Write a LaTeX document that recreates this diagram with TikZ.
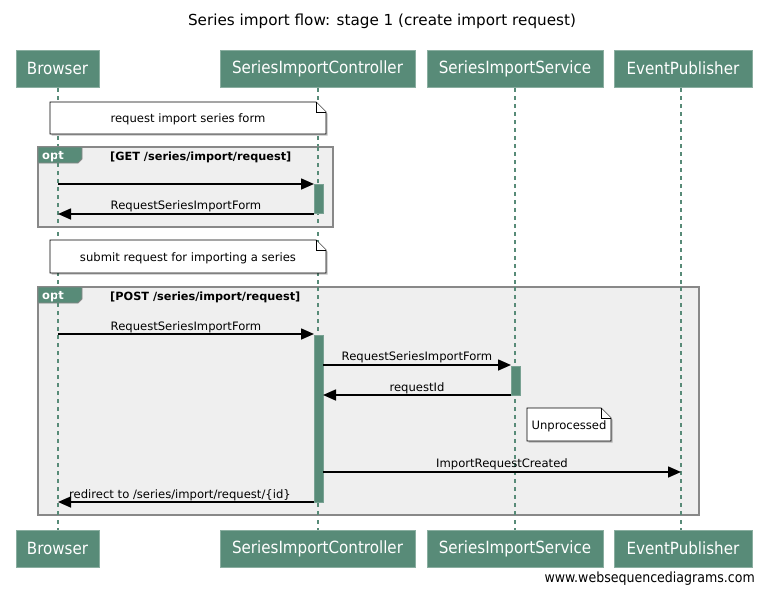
\documentclass[tikz,border=0pt]{standalone}
\usepackage{fontspec}
\setmainfont{DejaVu Sans}
\newfontfamily\condfont{DejaVu Sans Condensed}
\usetikzlibrary{arrows.meta,shadows}
\definecolor{wsdgreen}{RGB}{88,139,120}
\definecolor{framefill}{RGB}{239,239,239}
\definecolor{framedraw}{RGB}{136,136,136}
\tikzset{
  actor/.style={fill=wsdgreen, draw=wsdgreen!70!white, line width=1pt, text=white,
    font=\condfont\fontsize{16.8}{18}\selectfont, minimum height=37pt, inner sep=0pt,
    drop shadow={shadow xshift=1.2pt, shadow yshift=-1.2pt, fill=black, opacity=0.2}},
  life/.style={draw=wsdgreen, line width=2.4pt, dash pattern=on 4pt off 4pt},
  msg/.style={draw=black, line width=1.6pt, -{Triangle[length=13pt,width=11pt]}},
  lbl/.style={font=\fontsize{11.6}{13}\selectfont, inner sep=0pt, anchor=base},
  act/.style={fill=wsdgreen, draw=wsdgreen!80!white, line width=0.8pt},
  notebox/.style={fill=white, draw=black, line width=0.8pt,
    drop shadow={shadow xshift=1.5pt, shadow yshift=-1.5pt, fill=black, opacity=0.25}},
  fold/.style={fill=white, draw=black, line width=0.8pt},
  frame/.style={fill=framefill, draw=framedraw, line width=1.5pt,
    drop shadow={shadow xshift=1pt, shadow yshift=-1pt, fill=black, opacity=0.15}},
  tab/.style={fill=wsdgreen, draw=framedraw, line width=0.8pt},
  tabtxt/.style={text=white, font=\bfseries\fontsize{11.5}{12}\selectfont, inner sep=0pt, anchor=base west},
  guard/.style={font=\bfseries\fontsize{11.3}{12}\selectfont, inner sep=0pt, anchor=base west},
  notetxt/.style={font=\fontsize{11.6}{13}\selectfont, inner sep=0pt, anchor=base},
}
\begin{document}
\begin{tikzpicture}[x=1pt,y=-1pt]
\useasboundingbox (0,0) rectangle (764,592);
% title
\node[font=\fontsize{15.2}{17}\selectfont, anchor=base] (title) at (382,25) {Series import flow: stage 1 (create import request)};
% lifelines
\coordinate (bT) at (58,88);  \coordinate (bB) at (58,530);
\coordinate (cT) at (318,88); \coordinate (cB) at (318,530);
\coordinate (sT) at (515,88); \coordinate (sB) at (515,530);
\coordinate (eT) at (681,88); \coordinate (eB) at (681,530);
\draw[life] (bT) -- (bB);
\draw[life] (cT) -- (cB);
\draw[life] (sT) -- (sB);
\draw[life] (eT) -- (eB);
% frames
\draw[frame] (38,147) rectangle (333,227);
\draw[tab] (38,147) -- (82,147) -- (82,159) -- (78,163) -- (38,163) -- cycle;
\node[tabtxt] (opt1) at (42,159) {opt};
\node[guard] (g1) at (110,160) {[GET /series/import/request]};
\draw[frame] (38,287) rectangle (699,515);
\draw[tab] (38,287) -- (82,287) -- (82,299) -- (78,303) -- (38,303) -- cycle;
\node[tabtxt] (opt2) at (42,299) {opt};
\node[guard] (g2) at (110,300) {[POST /series/import/request]};
% re-draw lifelines over frames
\draw[life] (58,147) -- (58,227);
\draw[life] (318,147) -- (318,227);
\draw[life] (58,287) -- (58,515);
\draw[life] (318,287) -- (318,515);
\draw[life] (515,287) -- (515,515);
\draw[life] (681,287) -- (681,515);
% participants
\node[actor, minimum width=83pt] (browser) at (57.5,68.5) {Browser};
\node[actor, minimum width=195pt] (ctrl) at (317.5,68.5) {SeriesImportController};
\node[actor, minimum width=176pt] (svc) at (515,68.5) {SeriesImportService};
\node[actor, minimum width=138pt] (pub) at (683,68.5) {EventPublisher};
\node[actor, minimum width=83pt] (browser2) at (57.5,548.5) {Browser};
\node[actor, minimum width=195pt] (ctrl2) at (317.5,548.5) {SeriesImportController};
\node[actor, minimum width=176pt] (svc2) at (515,548.5) {SeriesImportService};
\node[actor, minimum width=138pt] (pub2) at (683,548.5) {EventPublisher};
% note 1
\draw[notebox] (50,102) -- (316,102) -- (326,112) -- (326,134) -- (50,134) -- cycle;
\draw[fold] (316,102) -- (316,112) -- (326,112);
\node[notetxt] (n1) at (188,122) {request import series form};
% note 2
\draw[notebox] (50,240) -- (316,240) -- (326,250) -- (326,273) -- (50,273) -- cycle;
\draw[fold] (316,240) -- (316,250) -- (326,250);
\node[notetxt] (n2) at (188,261) {submit request for importing a series};
% activations
\draw[act] (314,184) rectangle (323,213);
\draw[act] (314,335) rectangle (323,502);
\draw[act] (511,366) rectangle (520,395);
% note 3
\draw[notebox] (527,408) -- (601,408) -- (611,418) -- (611,441) -- (527,441) -- cycle;
\draw[fold] (601,408) -- (601,418) -- (611,418);
\node[notetxt] (n3) at (569,429) {Unprocessed};
% messages
\coordinate (m1a) at (58,184); \coordinate (m1b) at (314,184);
\draw[msg] (m1a) -- (m1b);
\coordinate (m2a) at (314,214); \coordinate (m2b) at (58,214);
\draw[msg] (m2a) -- (m2b);
\node[lbl] (l2) at (186,209) {RequestSeriesImportForm};
\coordinate (m3a) at (58,334); \coordinate (m3b) at (314,334);
\draw[msg] (m3a) -- (m3b);
\node[lbl] (l3) at (186,330) {RequestSeriesImportForm};
\coordinate (m4a) at (323,365); \coordinate (m4b) at (511,365);
\draw[msg] (m4a) -- (m4b);
\node[lbl] (l4) at (417,360) {RequestSeriesImportForm};
\coordinate (m5a) at (511,395); \coordinate (m5b) at (323,395);
\draw[msg] (m5a) -- (m5b);
\node[lbl] (l5) at (417,391) {requestId};
\coordinate (m6a) at (323,472); \coordinate (m6b) at (681,472);
\draw[msg] (m6a) -- (m6b);
\node[lbl] (l6) at (502,467) {ImportRequestCreated};
\coordinate (m7a) at (314,502); \coordinate (m7b) at (58,502);
\draw[msg] (m7a) -- (m7b);
\node[lbl] (l7) at (180,498) {redirect to /series/import/request/\{id\}};
% footer
\node[font=\condfont\fontsize{14}{15}\selectfont, anchor=base east, inner sep=0pt] (foot) at (755,582) {www.websequencediagrams.com};
\end{tikzpicture}
\end{document}
